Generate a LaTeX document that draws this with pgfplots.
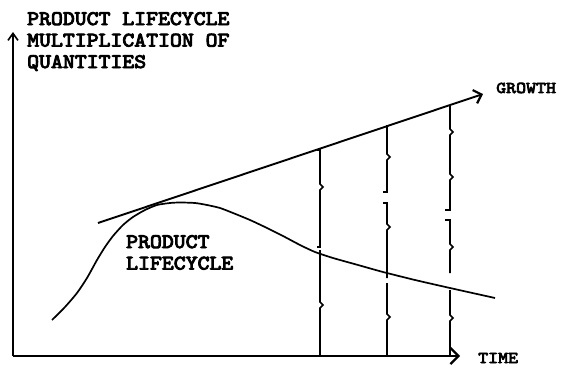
\documentclass[border=0pt]{standalone}
\usepackage{fontspec}
\usepackage{pgfplots}
\pgfplotsset{compat=1.18}
\usetikzlibrary{arrows.meta}
\newfontfamily\tw{lmmono10-regular.otf}[FakeBold=4.5, FakeStretch=1.1]
\newfontfamily\tws{lmmono10-regular.otf}[FakeBold=4.5, FakeStretch=1.15]
\begin{document}
\begin{tikzpicture}
\begin{axis}[
  scale only axis, width=447pt, height=324pt,
  xmin=13, xmax=460, ymin=17, ymax=341,
  axis x line=bottom, axis y line=left,
  x axis line style={line width=2.8pt, -{Straight Barb[length=8pt,width=16pt,line width=2.2pt]}},
  y axis line style={line width=1.9pt, -{Straight Barb[length=7pt,width=10pt,line width=1.6pt]}},
  xtick=\empty, ytick=\empty,
  clip=false,
]
% bounding box of the whole picture
\path (axis cs:0,0) rectangle (axis cs:563,373);
% growth line
\addplot[line width=1.9pt, -{Straight Barb[length=7pt,width=14pt,line width=2.2pt]}] coordinates {(98,150) (483,279)};
% product lifecycle curve
\addplot[line width=1.7pt, smooth, tension=0.4] coordinates {
(52,53) (65,66) (77,80) (87,95) (97,113) (105,126) (113,137) (123,148) (133,156)
(145,163) (157,168) (170,170) (180,170.5) (195,170) (207,168) (220,165) (233,160)
(250,153) (267,145) (283,137) (300,128) (315,121) (333,115) (358,108) (383,101)
(415,93) (450,85) (495,75)};
% braces at x=320
\addplot[line width=1.7pt] coordinates {(317,223) (320,223) (320,189) (323,186) (320,183) (320,126) (317,126)};
\addplot[line width=1.7pt] coordinates {(320,123) (320,71) (323,68) (320,65) (320,18)};
% braces at x=388
\addplot[line width=1.7pt] coordinates {(387,248) (387,219) (390,216) (387,213) (387,181) (383,181)};
\addplot[line width=1.7pt] coordinates {(383,170) (387,170) (387,149) (390,146) (387,143) (387,95)};
\addplot[line width=1.7pt] coordinates {(387,90) (387,59) (390,56) (387,53) (387,18)};
% braces at x=450
\addplot[line width=1.7pt] coordinates {(450,268) (450,244) (453,241) (450,238) (450,216)};
\addplot[line width=1.7pt] coordinates {(450,216) (450,199) (453,196) (450,193) (450,163) (445,163)};
\addplot[line width=1.7pt] coordinates {(445,153) (450,153) (450,129) (453,126) (450,123) (450,100)};
\addplot[line width=1.7pt] coordinates {(450,83) (450,58) (453,55) (450,52) (450,17)};
% labels
\node[anchor=north west, align=left, inner sep=0pt, font=\tw\fontsize{20.6}{21.5}\selectfont] at (axis cs:27,361)
  {PRODUCT LIFECYCLE\\MULTIPLICATION OF\\QUANTITIES};
\node[anchor=north west, align=left, inner sep=0pt, font=\tw\fontsize{20.6}{21.5}\selectfont] at (axis cs:126,138)
  {PRODUCT\\LIFECYCLE};
\node[anchor=base west, inner sep=0pt, font=\tws\fontsize{16.5}{18}\selectfont] at (axis cs:496,280) {GROWTH};
\node[anchor=base west, inner sep=0pt, font=\tws\fontsize{16.5}{18}\selectfont] at (axis cs:478,10) {TIME};
\end{axis}
\end{tikzpicture}
\end{document}
